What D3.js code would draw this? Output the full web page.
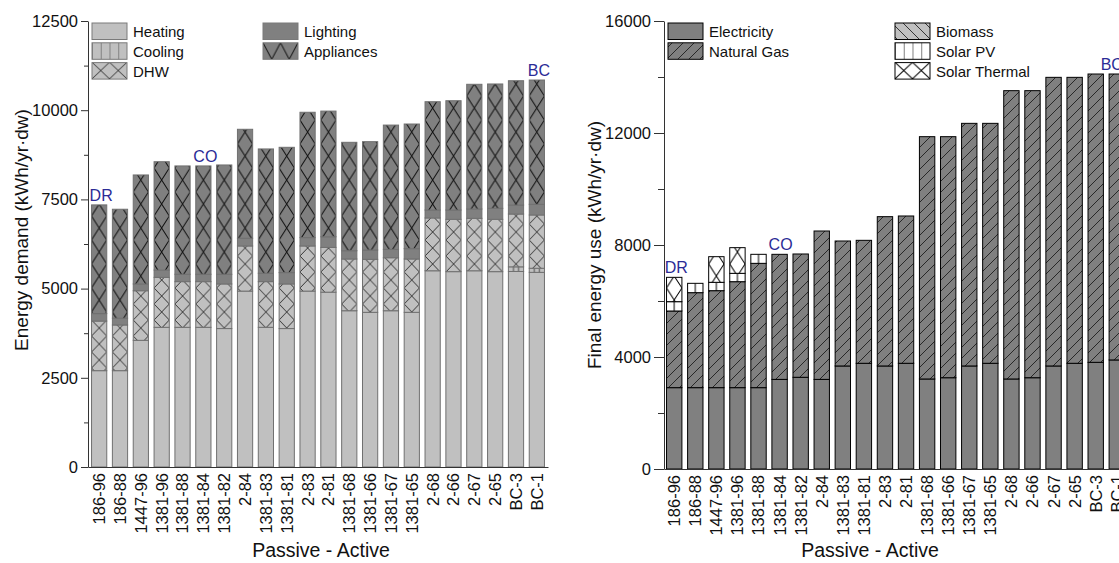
<!DOCTYPE html>
<html>
<head>
<meta charset="utf-8">
<script src="https://cdn.jsdelivr.net/npm/d3@7"></script>
<style>
  body { margin: 0; background: #fff; }
  svg { display: block; font-family: "Liberation Sans", Arial, sans-serif; }
</style>
</head>
<body>
<div id="chart"></div>
<script>
// ---- 1. DATA ----
const cases = ["186-96", "186-88", "1447-96", "1381-96", "1381-88", "1381-84", "1381-82",
    "2-84", "1381-83", "1381-81", "2-83", "2-81", "1381-68", "1381-66", "1381-67",
    "1381-65", "2-68", "2-66", "2-67", "2-65", "BC-3", "BC-1"];

// energy demand (kWh/yr·dw), left panel
const heating    = [2700, 2700, 3550, 3915, 3915, 3915, 3880, 4930, 3915, 3880, 4930, 4900,
                    4380, 4335, 4380, 4335, 5500, 5475, 5500, 5475, 5480, 5455];
const cooling    = [0, 0, 0, 0, 0, 0, 0, 0, 0, 0, 0, 0, 0, 0, 0, 0, 0, 0, 0, 0, 130, 115];
const dhw        = [1390, 1280, 1390, 1400, 1280, 1280, 1250, 1265, 1280, 1250, 1265, 1255,
                    1450, 1485, 1485, 1495, 1480, 1467, 1470, 1467, 1480, 1493];
const lighting   = [210, 190, 190, 205, 207, 207, 271, 216, 235, 318, 234, 298,
                    232, 262, 234, 289, 223, 261, 261, 308, 252, 299];
const appliances = [3046, 3054, 3055, 3036, 3036, 3036, 3064, 3054, 3484, 3512, 3513, 3522,
                    3038, 3036, 3484, 3494, 3035, 3063, 3495, 3485, 3484, 3484];

// final energy use (kWh/yr·dw), right panel
const electricity = [2905, 2905, 2905, 2905, 2905, 3200, 3275, 3200, 3680, 3775, 3680, 3775,
                     3215, 3260, 3680, 3775, 3215, 3260, 3680, 3775, 3810, 3895];
const naturalGas  = [2738, 3393, 3464, 3785, 4440, 4467, 4404, 5300, 4463, 4392, 5332, 5261,
                     8654, 8609, 8665, 8570, 10297, 10252, 10308, 10213, 10297, 10212];
const biomass     = [0, 0, 0, 0, 0, 0, 0, 0, 0, 0, 0, 0, 0, 0, 0, 0, 0, 0, 0, 0, 0, 0];
const solarPV     = [333, 333, 298, 298, 322, 0, 0, 0, 0, 0, 0, 0, 0, 0, 0, 0, 0, 0, 0, 0, 0, 0];
const solarTherm  = [869, 0, 916, 917, 0, 0, 0, 0, 0, 0, 0, 0, 0, 0, 0, 0, 0, 0, 0, 0, 0, 0];

const demandTicks = [0, 2500, 5000, 7500, 10000, 12500];
const finalTicks  = [0, 4000, 8000, 12000, 16000];

const markCases  = ["186-96", "1381-84", "BC-1"];
const markLabels = ["DR", "CO", "BC"];

// ---- 2. SVG ----
const W = 1119, H = 563;
const svg = d3.select("#chart").append("svg")
    .attr("width", W)
    .attr("height", H);
const defs = svg.append("defs");

const LIGHT = "#c0c0c0", DARK = "#808080", NAVY = "#2b2b96";

function pattern(id, x0, y0, w, h, bg, d, stroke, sw) {
    const p = defs.append("pattern")
        .attr("id", id)
        .attr("patternUnits", "userSpaceOnUse")
        .attr("x", x0).attr("y", y0)
        .attr("width", w).attr("height", h);
    p.append("rect").attr("width", w).attr("height", h).attr("fill", bg);
    p.append("path").attr("d", d)
        .attr("fill", "none")
        .attr("stroke", stroke)
        .attr("stroke-width", sw);
}

// ---- 3. PANEL ----
function drawPanel(opt) {
    const x = d3.scaleBand()
        .domain(cases)
        .range(opt.xRange)
        .paddingInner(0.27)
        .paddingOuter(opt.outer);

    const y = d3.scaleLinear()
        .domain([0, d3.max(opt.ticks)])
        .range(opt.yRange);

    const x0 = x(cases[0]), step = x.step(), bw = x.bandwidth();
    opt.patterns(x0, step, bw);

    const rows = cases.map((c, i) => {
        const r = {name: c};
        opt.series.forEach(s => r[s.key] = s.values[i]);
        return r;
    });
    const stacked = d3.stack().keys(opt.series.map(s => s.key))(rows);

    const g = svg.append("g");

    g.selectAll("g.layer")
        .data(stacked)
        .join("g")
        .attr("class", "layer")
        .attr("fill", (d, i) => opt.series[i].fill)
        .selectAll("rect")
        .data(d => d.filter(v => v[1] - v[0] > 0))
        .join("rect")
        .attr("x", d => x(d.data.name))
        .attr("width", bw)
        .attr("y", d => y(d[1]))
        .attr("height", d => y(d[0]) - y(d[1]))
        .attr("stroke", opt.barStroke)
        .attr("stroke-width", 1);

    // y axis, major + minor ticks
    const minor = d3.range(0, opt.ticks.length - 1)
        .map(i => (opt.ticks[i] + opt.ticks[i + 1]) / 2);

    const ya = g.append("g")
        .attr("transform", `translate(${opt.xRange[0]},0)`)
        .call(d3.axisLeft(y).tickValues(opt.ticks).tickFormat(d3.format("d"))
            .tickSize(opt.major).tickSizeOuter(0).tickPadding(3));
    g.append("g")
        .attr("transform", `translate(${opt.xRange[0]},0)`)
        .call(d3.axisLeft(y).tickValues(minor).tickSize(opt.minorLen).tickFormat(""))
        .select(".domain").remove();

    ya.selectAll("text")
        .style("font-size", "16.5px")
        .attr("fill", "#111");
    g.selectAll(".tick line, .domain").attr("stroke", "#333");

    // x axis with rotated labels
    const xa = g.append("g")
        .attr("transform", `translate(0,${opt.yRange[0]})`)
        .call(d3.axisBottom(x).tickSize(0).tickSizeOuter(0));
    xa.select(".domain").attr("stroke", "#333");
    xa.selectAll("text")
        .attr("transform", "rotate(-90)")
        .attr("x", -6)
        .attr("y", 0)
        .attr("dy", "0.36em")
        .style("text-anchor", "end")
        .style("font-size", "16.5px")
        .attr("fill", "#111");

    // titles
    g.append("text")
        .attr("transform", `translate(${opt.yTitleX},${opt.yTitleY}) rotate(-90)`)
        .attr("text-anchor", "middle")
        .style("font-size", "19px")
        .attr("fill", "#111")
        .text(opt.yTitle);

    g.append("text")
        .attr("x", opt.xTitleX)
        .attr("y", 557)
        .attr("text-anchor", "middle")
        .style("font-size", "19.5px")
        .attr("fill", "#111")
        .text("Passive - Active");

    // case markers
    markCases.forEach((c, i) => {
        const idx = cases.indexOf(c);
        const tot = d3.sum(opt.series, s => s.values[idx]);
        g.append("text")
            .attr("x", x(c) + bw / 2 + opt.markDx[i])
            .attr("y", y(tot) - 4)
            .attr("text-anchor", "middle")
            .style("font-size", "16px")
            .attr("fill", NAVY)
            .text(markLabels[i]);
    });

    // legend
    opt.legend.forEach(col => {
        col.items.forEach((it, j) => {
            const by = 23 + j * 19.8;
            g.append("rect")
                .attr("x", col.x).attr("y", by)
                .attr("width", 35).attr("height", 16.5)
                .attr("fill", it.fill)
                .attr("stroke", opt.legendStroke)
                .attr("stroke-width", 1);
            g.append("text")
                .attr("x", col.x + 41)
                .attr("y", by + 14)
                .style("font-size", "15px")
                .attr("fill", "#111")
                .text(it.name);
        });
    });
}

// ---- 4. LEFT: ENERGY DEMAND ----
drawPanel({
    xRange: [88, 548],
    outer: 0.17,
    yRange: [467, 21],
    ticks: demandTicks,
    major: 7,
    minorLen: 4,
    barStroke: "#707070",
    legendStroke: "#7a7a7a",
    yTitle: "Energy demand (kWh/yr·dw)",
    yTitleX: 28,
    yTitleY: 230,
    xTitleX: 321,
    markDx: [2, 2, 2],
    patterns: (x0, step, bw) => {
        pattern("l-cool", x0, 0, step, 10, LIGHT, `M${bw / 3},0V10M${2 * bw / 3},0V10`, "#333", 0.8);
        pattern("l-dhw", x0, 0, step, 16, LIGHT, `M0,0L${bw},16M${bw},0L0,16`, "#222", 0.9);
        pattern("l-app", x0, 0, step, 24, DARK, `M0,0L${bw},24M${bw},0L0,24`, "#111", 1);
        pattern("lg-cool", 92, 23, 8.75, 100, LIGHT, "M0,0V100", "#333", 0.9);
        pattern("lg-dhw", 92, 62.3, 17.5, 16.5, LIGHT, "M0,0L17.5,16.5M17.5,0L0,16.5", "#222", 0.9);
        pattern("lg-app", 263, 42.8, 17.5, 33, DARK, "M0,0L17.5,33M17.5,0L0,33", "#111", 1);
    },
    series: [
        {key: "Heating", values: heating, fill: LIGHT},
        {key: "Cooling", values: cooling, fill: "url(#l-cool)"},
        {key: "DHW", values: dhw, fill: "url(#l-dhw)"},
        {key: "Lighting", values: lighting, fill: DARK},
        {key: "Appliances", values: appliances, fill: "url(#l-app)"}
    ],
    legend: [
        {x: 92, items: [
            {name: "Heating", fill: LIGHT},
            {name: "Cooling", fill: "url(#lg-cool)"},
            {name: "DHW", fill: "url(#lg-dhw)"}]},
        {x: 263, items: [
            {name: "Lighting", fill: DARK},
            {name: "Appliances", fill: "url(#lg-app)"}]}
    ]
});

// ---- 5. RIGHT: FINAL ENERGY USE ----
drawPanel({
    xRange: [664, 1127],
    outer: 0.12,
    yRange: [469, 21],
    ticks: finalTicks,
    major: 10,
    minorLen: 6,
    barStroke: "#000",
    legendStroke: "#000",
    yTitle: "Final energy use (kWh/yr·dw)",
    yTitleX: 601,
    yTitleY: 245,
    xTitleX: 870,
    markDx: [2, 1, -5],
    patterns: (x0, step, bw) => {
        pattern("r-gas", 0, 0, 11, 11, DARK, "M0,11L11,0M-2,2L2,-2M9,13L13,9", "#111", 0.8);
        pattern("r-bio", 0, 0, 11, 11, LIGHT, "M0,0L11,11M-2,9L2,13M9,-2L13,2", "#111", 0.8);
        pattern("r-pv", x0, 0, step, 10, "#fff", `M${bw / 2},0V10`, "#000", 1);
        pattern("r-st", x0, 0, step, 24, "#fff", `M0,0L${bw},24M${bw},0L0,24`, "#000", 1);
        pattern("rg-pv", 895, 0, 8.75, 100, "#fff", "M0,0V100", "#000", 1);
        pattern("rg-st", 895, 62.3, 17.5, 16.5, "#fff", "M0,0L17.5,16.5M17.5,0L0,16.5", "#000", 1);
    },
    series: [
        {key: "Electricity", values: electricity, fill: DARK},
        {key: "Natural Gas", values: naturalGas, fill: "url(#r-gas)"},
        {key: "Biomass", values: biomass, fill: "url(#r-bio)"},
        {key: "Solar PV", values: solarPV, fill: "url(#r-pv)"},
        {key: "Solar Thermal", values: solarTherm, fill: "url(#r-st)"}
    ],
    legend: [
        {x: 668, items: [
            {name: "Electricity", fill: DARK},
            {name: "Natural Gas", fill: "url(#r-gas)"}]},
        {x: 895, items: [
            {name: "Biomass", fill: "url(#r-bio)"},
            {name: "Solar PV", fill: "url(#rg-pv)"},
            {name: "Solar Thermal", fill: "url(#rg-st)"}]}
    ]
});
</script>
</body>
</html>
